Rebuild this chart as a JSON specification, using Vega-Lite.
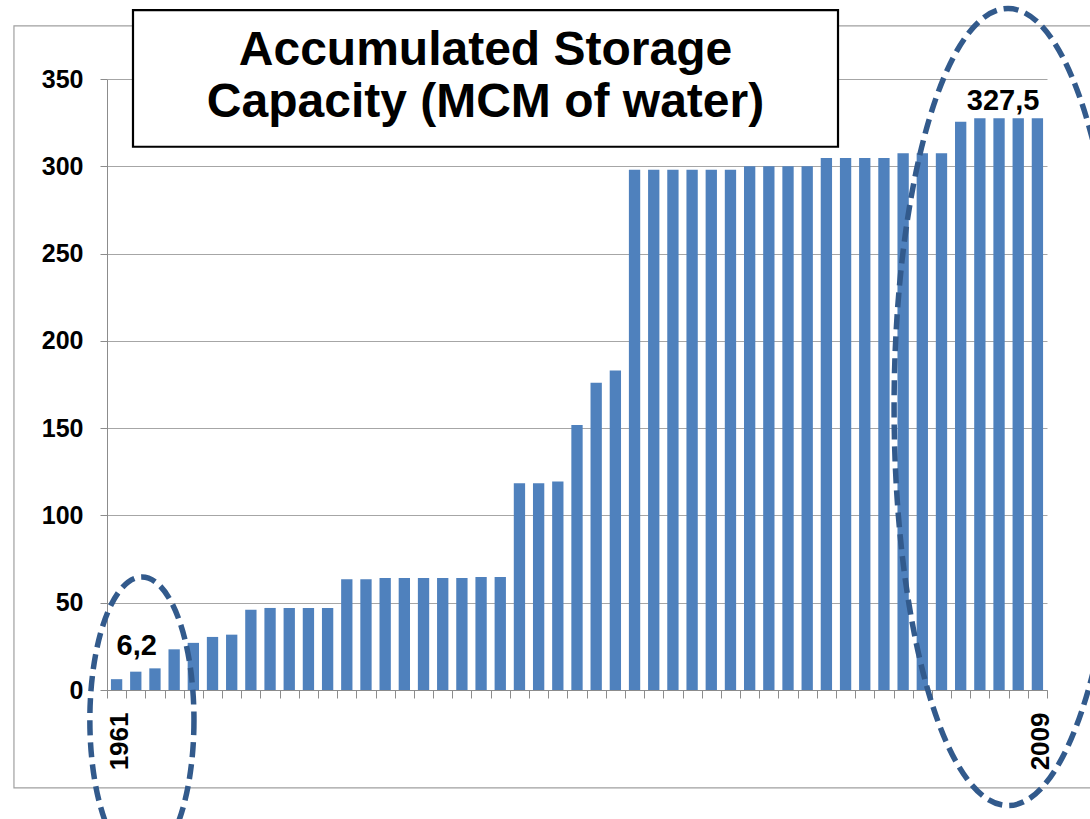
{
  "$schema": "https://vega.github.io/schema/vega-lite/v6.json",
  "width": 940,
  "height": 611,
  "autosize": "none",
  "padding": {"left": 107, "top": 79, "right": 43, "bottom": 129},
  "background": "white",
  "config": {"view": {"stroke": null}, "font": "Liberation Sans"},
  "layer": [
    {
      "data": {"values": [
        {"year": 1961, "value": 6.2}, {"year": 1962, "value": 10.5}, {"year": 1963, "value": 12.4},
        {"year": 1964, "value": 23.3}, {"year": 1965, "value": 27.0}, {"year": 1966, "value": 30.4},
        {"year": 1967, "value": 31.7}, {"year": 1968, "value": 46.0}, {"year": 1969, "value": 47.0},
        {"year": 1970, "value": 47.0}, {"year": 1971, "value": 47.0}, {"year": 1972, "value": 47.0},
        {"year": 1973, "value": 63.5}, {"year": 1974, "value": 63.5}, {"year": 1975, "value": 64.1},
        {"year": 1976, "value": 64.1}, {"year": 1977, "value": 64.1}, {"year": 1978, "value": 64.1},
        {"year": 1979, "value": 64.1}, {"year": 1980, "value": 64.8}, {"year": 1981, "value": 64.8},
        {"year": 1982, "value": 118.4}, {"year": 1983, "value": 118.4}, {"year": 1984, "value": 119.5},
        {"year": 1985, "value": 151.8}, {"year": 1986, "value": 176.0}, {"year": 1987, "value": 183.0},
        {"year": 1988, "value": 298.0}, {"year": 1989, "value": 298.0}, {"year": 1990, "value": 298.0},
        {"year": 1991, "value": 298.0}, {"year": 1992, "value": 298.0}, {"year": 1993, "value": 298.0},
        {"year": 1994, "value": 300.0}, {"year": 1995, "value": 300.0}, {"year": 1996, "value": 300.0},
        {"year": 1997, "value": 300.0}, {"year": 1998, "value": 304.7}, {"year": 1999, "value": 304.7},
        {"year": 2000, "value": 304.7}, {"year": 2001, "value": 304.7}, {"year": 2002, "value": 307.5},
        {"year": 2003, "value": 307.5}, {"year": 2004, "value": 307.5}, {"year": 2005, "value": 325.5},
        {"year": 2006, "value": 327.5}, {"year": 2007, "value": 327.5}, {"year": 2008, "value": 327.5},
        {"year": 2009, "value": 327.5}
      ]},
      "mark": {"type": "bar", "color": "#4F81BD", "width": {"band": 0.59}},
      "encoding": {
        "x": {
          "field": "year", "type": "ordinal",
          "scale": {"paddingInner": 0, "paddingOuter": 0},
          "axis": {
            "title": null, "tickBand": "extent", "tickSize": 8, "tickColor": "#8c8c8c",
            "domainColor": "#8c8c8c", "grid": false,
            "labelExpr": "datum.value == 1961 || datum.value == 2009 ? datum.label : ''",
            "labelAngle": 270, "labelFontSize": 26, "labelFontWeight": "bold", "labelColor": "#000000",
            "labelPadding": 14, "labelOffset": 3, "labelOverlap": false
          }
        },
        "y": {
          "field": "value", "type": "quantitative",
          "scale": {"domain": [0, 350], "nice": false},
          "axis": {
            "title": null, "values": [0, 50, 100, 150, 200, 250, 300, 350],
            "grid": true, "gridColor": "#a6a6a6", "tickSize": 7, "tickColor": "#8c8c8c",
            "domainColor": "#8c8c8c", "labelFontSize": 25, "labelFontWeight": "bold",
            "labelColor": "#000000", "labelPadding": 17
          }
        }
      }
    },
    {
      "layer": [
        {
          "data": {"values": [{"x1": 1955.65, "x2": 2012.6, "y1": 380.4, "y2": -56.1}]},
          "mark": {"type": "rect", "fill": null, "fillOpacity": 0, "stroke": "#a0a0a0", "strokeWidth": 1.2},
          "encoding": {
            "x": {"field": "x1", "type": "quantitative", "scale": {"domain": [1960.5, 2009.5], "nice": false, "zero": false}, "axis": null},
            "x2": {"field": "x2"},
            "y": {"field": "y1", "type": "quantitative", "scale": {"domain": [0, 350], "nice": false}, "axis": null},
            "y2": {"field": "y2"}
          }
        },
        {
          "data": {"values": [{"x1": 1961.855, "x2": 1998.606, "y1": 389.5, "y2": 311.2}]},
          "mark": {"type": "rect", "fill": "white", "stroke": "#000000", "strokeWidth": 2.2},
          "encoding": {
            "x": {"field": "x1", "type": "quantitative", "scale": {"domain": [1960.5, 2009.5], "nice": false, "zero": false}, "axis": null},
            "x2": {"field": "x2"},
            "y": {"field": "y1", "type": "quantitative", "scale": {"domain": [0, 350], "nice": false}, "axis": null},
            "y2": {"field": "y2"}
          }
        },
        {
          "data": {"values": [
            {"x": 1980.23, "y": 358.0, "text": "Accumulated Storage"},
            {"x": 1980.23, "y": 328.0, "text": "Capacity (MCM of water)"}
          ]},
          "mark": {"type": "text", "font": "Liberation Sans", "fontSize": 48, "fontWeight": "bold", "color": "#000000", "align": "center", "baseline": "alphabetic"},
          "encoding": {
            "x": {"field": "x", "type": "quantitative", "scale": {"domain": [1960.5, 2009.5], "nice": false, "zero": false}, "axis": null},
            "y": {"field": "y", "type": "quantitative", "scale": {"domain": [0, 350], "nice": false}, "axis": null},
            "text": {"field": "text"}
          }
        },
        {
          "data": {"values": [
            {"x": 1962.05, "y": 20.0, "text": "6,2"},
            {"x": 2007.21, "y": 332.2, "text": "327,5"}
          ]},
          "mark": {"type": "text", "font": "Liberation Sans", "fontSize": 29, "fontWeight": "bold", "color": "#000000", "align": "center", "baseline": "alphabetic"},
          "encoding": {
            "x": {"field": "x", "type": "quantitative", "scale": {"domain": [1960.5, 2009.5], "nice": false, "zero": false}, "axis": null},
            "y": {"field": "y", "type": "quantitative", "scale": {"domain": [0, 350], "nice": false}, "axis": null},
            "text": {"field": "text"}
          }
        },
        {
          "data": {"values": [{"x": 1962.32, "y": -17.2}]},
          "mark": {
            "type": "point", "filled": false, "opacity": 1, "strokeOpacity": 1, "stroke": "#325a8c", "strokeWidth": 5.5,
            "strokeDash": [15, 7], "size": 81796,
            "shape": "M 0.364 0 C 0.364 0.5523 0.201 1 0 1 C -0.201 1 -0.364 0.5523 -0.364 0 C -0.364 -0.5523 -0.201 -1 0 -1 C 0.201 -1 0.364 -0.5523 0.364 0 Z"
          },
          "encoding": {
            "x": {"field": "x", "type": "quantitative", "scale": {"domain": [1960.5, 2009.5], "nice": false, "zero": false}, "axis": null},
            "y": {"field": "y", "type": "quantitative", "scale": {"domain": [0, 350], "nice": false}, "axis": null}
          }
        },
        {
          "data": {"values": [{"x": 2007.47, "y": 162.1}]},
          "mark": {
            "type": "point", "filled": false, "opacity": 1, "strokeOpacity": 1, "stroke": "#325a8c", "strokeWidth": 5.5,
            "strokeDash": [15, 7], "size": 635209,
            "shape": "M 0.286 0 C 0.286 0.5523 0.158 1 0 1 C -0.158 1 -0.286 0.5523 -0.286 0 C -0.286 -0.5523 -0.158 -1 0 -1 C 0.158 -1 0.286 -0.5523 0.286 0 Z"
          },
          "encoding": {
            "x": {"field": "x", "type": "quantitative", "scale": {"domain": [1960.5, 2009.5], "nice": false, "zero": false}, "axis": null},
            "y": {"field": "y", "type": "quantitative", "scale": {"domain": [0, 350], "nice": false}, "axis": null}
          }
        }
      ]
    }
  ],
  "resolve": {"scale": {"x": "independent", "y": "independent"}}
}
